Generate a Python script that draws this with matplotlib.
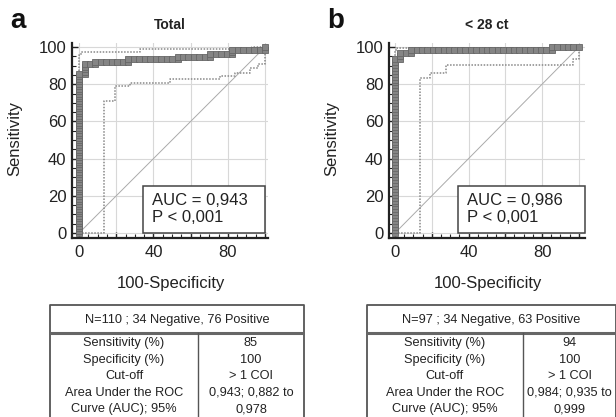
import numpy as np
import matplotlib
matplotlib.use('Agg')
import matplotlib.pyplot as plt
from matplotlib.patches import Rectangle

plt.rcParams['font.family'] = ['Liberation Sans', 'DejaVu Sans']

# ROC corners as (false positive count, true positive count)
n_neg_a, n_pos_a = 34, 76
roc_a_fp = [0, 0, 1, 1, 3, 3, 9, 9, 18, 18, 24, 24, 28, 28, 34, 34]
roc_a_tp = [0, 65, 65, 69, 69, 70, 70, 71, 71, 72, 72, 73, 73, 75, 75, 76]

n_neg_b, n_pos_b = 34, 63
roc_b_fp = [0, 0, 1, 1, 3, 3, 29, 29, 34]
roc_b_tp = [0, 59, 59, 61, 61, 62, 62, 63, 63]

# 95% confidence bands (in %)
upper_a_x = [0, 0, 0.8, 0.8, 33, 33, 93, 93, 100]
upper_a_y = [0, 96, 96, 97.5, 97.5, 98.9, 98.9, 100, 100]
lower_a_x = [0, 13.5, 13.5, 19.5, 19.5, 27.5, 27.5, 49, 49, 76, 76, 84, 84, 92, 92, 96, 96, 100, 100]
lower_a_y = [0, 0, 71, 71, 79, 79, 80.8, 80.8, 82.6, 82.6, 84.2, 84.2, 86, 86, 88.5, 88.5, 91, 91, 100]

upper_b_x = [0, 0, 0.8, 0.8, 100, 100]
upper_b_y = [0, 98.5, 98.5, 99.6, 99.6, 100]
lower_b_x = [0, 13.6, 13.6, 19, 19, 27.7, 27.7, 97, 97, 100, 100]
lower_b_y = [0, 0, 83.5, 83.5, 86, 86, 90.5, 90.5, 93.4, 93.4, 100]

titles = ['Total', '< 28 ct']
letters = ['a', 'b']
auc_text = ['AUC = 0,943\nP < 0,001', 'AUC = 0,986\nP < 0,001']

table_header = ['N=110 ; 34 Negative, 76 Positive', 'N=97 ; 34 Negative, 63 Positive']
table_left = ['Sensitivity (%)', 'Specificity (%)', 'Cut-off', 'Area Under the ROC', 'Curve (AUC); 95%']
table_right_a = ['85', '100', '> 1 COI', '0,943; 0,882 to', '0,978']
table_right_b = ['94', '100', '> 1 COI', '0,984; 0,935 to', '0,999']


def roc_points(fp, tp, nneg, npos):
    # every threshold step along the corner path
    xs, ys = [fp[0]], [tp[0]]
    for i in range(1, len(fp)):
        f0, t0, f1, t1 = fp[i-1], tp[i-1], fp[i], tp[i]
        n = max(abs(f1 - f0), abs(t1 - t0))
        for k in range(1, n + 1):
            xs.append(f0 + (f1 - f0) * k / n)
            ys.append(t0 + (t1 - t0) * k / n)
    return np.array(xs) / nneg * 100, np.array(ys) / npos * 100


W, H = 616, 417
fig = plt.figure(figsize=(W / 100, H / 100), dpi=100)

panels = [
    dict(left=72, xlim=(-3.8, 101.6), fp=roc_a_fp, tp=roc_a_tp, nn=n_neg_a, npos=n_pos_a,
         ux=upper_a_x, uy=upper_a_y, lx=lower_a_x, ly=lower_a_y, box=(34.4, 100),
         tleft=50, twidth=254, tdiv=148, right=table_right_a),
    dict(left=389, xlim=(-3.3, 103.4), fp=roc_b_fp, tp=roc_b_tp, nn=n_neg_b, npos=n_pos_b,
         ux=upper_b_x, uy=upper_b_y, lx=lower_b_x, ly=lower_b_y, box=(34.3, 103.2),
         tleft=367, twidth=249, tdiv=156, right=table_right_b),
]

for i, p in enumerate(panels):
    ax = fig.add_axes([p['left'] / W, 1 - 238 / H, 196 / W, 195 / H])
    ax.set_xlim(*p['xlim'])
    ax.set_ylim(-2.7, 102.2)
    for s in ['top', 'right']:
        ax.spines[s].set_visible(False)
    for s in ['left', 'bottom']:
        ax.spines[s].set_linewidth(1.6)
        ax.spines[s].set_color('#222222')
    ax.set_xticks([0, 20, 40, 60, 80, 100])
    ax.set_xticklabels(['0', '', '40', '', '80', ''])
    ax.set_yticks([0, 20, 40, 60, 80, 100])
    ax.set_xticks(np.arange(0, 101, 5), minor=True)
    ax.set_yticks(np.arange(0, 101, 5), minor=True)
    ax.tick_params(which='both', direction='in', color='#222222', labelsize=12,
                   labelcolor='#222222')
    ax.tick_params(which='major', length=4, width=1)
    ax.tick_params(which='minor', length=3, width=0.8)
    ax.tick_params(axis='x', pad=5)
    ax.tick_params(axis='y', pad=4)
    ax.grid(True, which='major', color='#d8d8d8', linewidth=0.8)
    ax.set_axisbelow(True)

    ax.plot([0, 100], [0, 100], color='#aaaaaa', linewidth=0.7, zorder=2)
    ax.plot(p['ux'], p['uy'], color='#888888', linestyle=(0, (1, 1)), linewidth=1.1, zorder=3)
    ax.plot(p['lx'], p['ly'], color='#888888', linestyle=(0, (1, 1)), linewidth=1.1, zorder=3)

    rx, ry = roc_points(p['fp'], p['tp'], p['nn'], p['npos'])
    ax.plot(rx, ry, color='#555555', linewidth=1.5, marker='s', markersize=4.8,
            markerfacecolor='#858585', markeredgecolor='#666666', markeredgewidth=0.6,
            zorder=4, clip_on=False)

    bx0, bx1 = p['box']
    ax.add_patch(Rectangle((bx0, 0), bx1 - bx0, 25.5, facecolor='white',
                           edgecolor='#444444', linewidth=1.1, zorder=5, clip_on=False))
    ax.text(bx0 + 5, 12.8, auc_text[i], fontsize=12, color='#222222', va='center',
            ha='left', linespacing=1.15, zorder=6)

    ax.set_title(titles[i], fontsize=10, fontweight='bold', pad=10, color='#222222')
    ax.set_xlabel('100-Specificity', fontsize=12, color='#222222')
    ax.set_ylabel('Sensitivity', fontsize=12, color='#222222')
    ax.xaxis.set_label_coords(0.505, -0.195)
    ax.yaxis.set_label_coords(-0.255, 0.51)

    fig.text((p['left'] - 62) / W, 1 - 28 / H, letters[i], fontsize=20, fontweight='bold',
             color='#111111', va='baseline', ha='left')

    # table
    tb = fig.add_axes([p['tleft'] / W, 1 - 440 / H, p['twidth'] / W, 135 / H])
    tb.set_xlim(0, p['twidth'])
    tb.set_ylim(135, 0)
    tb.axis('off')
    tw = p['twidth']
    tb.plot([0, 0, tw, tw], [140, 0, 0, 140], color='#555555', linewidth=1.3, clip_on=False)
    tb.plot([0, tw], [28, 28], color='#666666', linewidth=2.2)
    tb.plot([p['tdiv'], p['tdiv']], [28, 140], color='#555555', linewidth=1.0, clip_on=False)
    tb.text(tw / 2, 14.5, table_header[i], fontsize=9.2, ha='center', va='center', color='#222222')
    for r, (lt, rt) in enumerate(zip(table_left, p['right'])):
        yy = 38 + r * 16.5
        tb.text(p['tdiv'] / 2, yy, lt, fontsize=9.2, ha='center', va='center', color='#222222')
        tb.text((p['tdiv'] + tw) / 2, yy, rt, fontsize=9.2, ha='center', va='center',
                color='#222222')

fig.savefig('out.png', dpi=100)
